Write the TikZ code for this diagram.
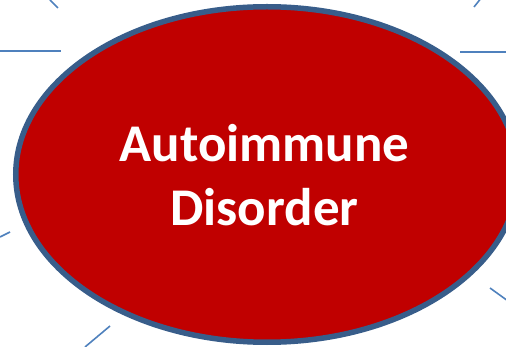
\documentclass[tikz,border=0pt]{standalone}
\usepackage{fontspec}
\setmainfont{Carlito}
\usetikzlibrary{shapes.geometric}
\definecolor{darkred}{RGB}{192,0,0}
\definecolor{slate}{RGB}{56,93,138}
\definecolor{rayblue}{RGB}{79,129,189}

\begin{document}
\begin{tikzpicture}[x=1pt, y=-1pt,
    disc/.style={ellipse,draw=slate,fill=darkred,line width=5.5pt,inner sep=0pt,
                 minimum width=502.5pt,minimum height=335.5pt},
    ray/.style={draw=rayblue,line width=1.6pt},
    lbl/.style={text=white,align=center,font=\fontsize{53}{64}\selectfont\bfseries}]
    \useasboundingbox (0,0) rectangle (506,347);
    \node[disc] (dis) at (267,174.5) {};
    \node[lbl] (txt) at (264.5,175.5) {Autoimmune\\Disorder};
    % rays round the disc
    \foreach \i/\ax/\ay/\bx/\by in {1/50/0/58/8, 2/0/51/61/51, 3/482/-3/474/7,
        4/460/52/506/52, 5/0/237/10/232, 6/85/347/110/326, 7/490/288/508/301} {
      \coordinate (r\i a) at (\ax,\ay);
      \coordinate (r\i b) at (\bx,\by);
      \draw[ray] (r\i a) -- (r\i b);
    }
  \end{tikzpicture}
\end{document}
